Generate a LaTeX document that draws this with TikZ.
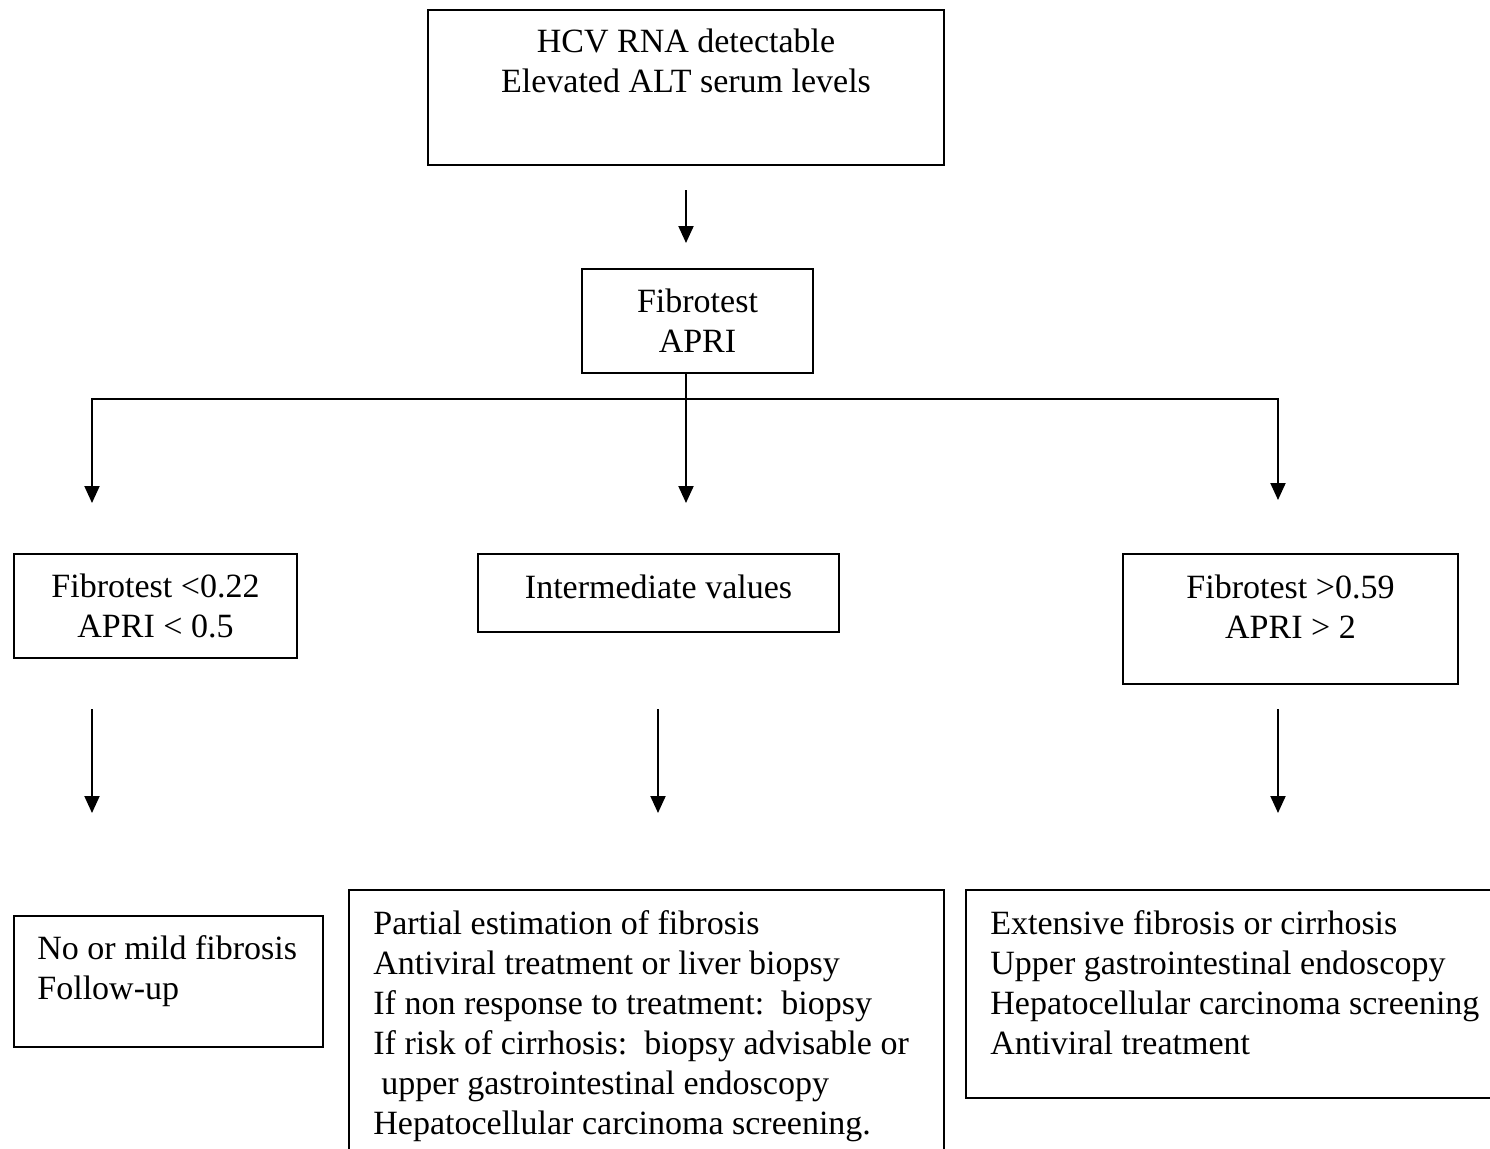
\documentclass[tikz,border=0pt]{standalone}
\usepackage{fontspec}
\setmainfont{Liberation Serif}
\usetikzlibrary{arrows.meta,positioning}

\tikzset{
  box/.style={draw, line width=0.9pt, inner sep=0pt, outer sep=0pt, anchor=north west, align=center},
  txt/.style={inner sep=0pt, align=left},
  flow/.style={->, line width=1pt},
}

\begin{document}
\begin{tikzpicture}[x=0.5pt, y=-0.5pt, >={Triangle[length=8.5pt,width=7.5pt]},
  font=\fontsize{17}{20}\selectfont]
  \useasboundingbox (0,0) rectangle (1490,1148);

  % boxes
  \node[box, minimum width=258pt, minimum height=77.5pt] (hcv) at (428,10) {};
  \node[txt, align=center, below=9.5pt of hcv.north] (hcvtext) {HCV RNA detectable\\Elevated ALT serum levels};
  \node[box, minimum width=115.5pt, minimum height=52pt] (fib) at (582,269) {Fibrotest\\APRI};

  \node[box, minimum width=141.5pt, minimum height=52pt] (low) at (14,554) {Fibrotest <0.22\\APRI < 0.5};
  \node[box, minimum width=180.5pt, minimum height=39pt] (mid) at (478,554) {};
  \node[txt, below=10pt of mid.north] (midtext) {Intermediate values};
  \node[box, minimum width=167.5pt, minimum height=65pt] (high) at (1123,554) {};
  \node[txt, align=center, below=10pt of high.north] (hightext) {Fibrotest >0.59\\APRI > 2};

  \node[box, minimum width=154.5pt, minimum height=65.5pt] (mild) at (14,916) {};
  \node[txt, below right=9.5pt and 11.5pt of mild.north west] (mildtext) {No or mild fibrosis\\Follow-up};
  \node[box, minimum width=297.5pt, minimum height=140pt] (part) at (349,890) {};
  \node[txt, below right=10pt and 12pt of part.north west] (parttext)
    {Partial estimation of fibrosis\\
     Antiviral treatment or liver biopsy\\
     If non response to treatment:\ \ biopsy\\
     If risk of cirrhosis:\ \ biopsy advisable or\\
     \hspace*{4pt}upper gastrointestinal endoscopy\\
     Hepatocellular carcinoma screening.};
  \node[box, minimum width=280pt, minimum height=104pt] (ext) at (966,890) {};
  \node[txt, below right=10pt and 12pt of ext.north west] (exttext)
    {Extensive fibrosis or cirrhosis\\
     Upper gastrointestinal endoscopy\\
     Hepatocellular carcinoma screening\\
     Antiviral treatment};

  % free ends of the arrows
  \coordinate (split) at (686,399);
  \coordinate (inl) at (92,503);
  \coordinate (inm) at (686,503);
  \coordinate (inr) at (1278,500);
  \coordinate (outl) at (92,709);
  \coordinate (outm) at (658,709);
  \coordinate (outr) at (1278,709);
  \coordinate (endl) at (92,813);
  \coordinate (endm) at (658,813);
  \coordinate (endr) at (1278,813);

  % arrows
  \draw[flow, shorten <=12.5pt, shorten >=13pt] (hcv.south) -- (hcv.south |- fib.north);
  \draw[flow] (hcv.south |- fib.south) -- (inm);
  \draw[flow] (split) -| (inl);
  \draw[flow] (split) -| (inr);
  \draw[flow] (outl) -- (endl);
  \draw[flow] (outm) -- (endm);
  \draw[flow] (outr) -- (endr);
\end{tikzpicture}
\end{document}
